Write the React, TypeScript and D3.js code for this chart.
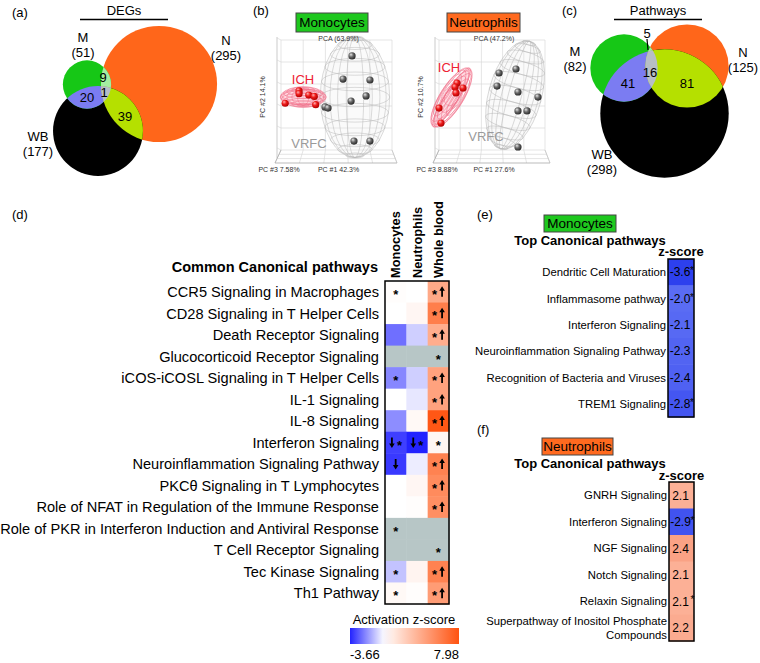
import React from 'react';
import * as d3 from 'd3';

const FONT = "'Liberation Sans', Arial, Helvetica, sans-serif";

// ---------------- (a) DEG Venn ----------------
const degSetNames = ['M', 'N', 'WB'];
const degSetSizes = [51, 295, 177];
const degRegionCounts = [9, 1, 20, 39]; // M∩N, M∩N∩WB, M∩WB, N∩WB

// ---------------- (c) Pathway Venn ----------------
const pwSetNames = ['M', 'N', 'WB'];
const pwSetSizes = [82, 125, 298];
const pwRegionCounts = [5, 16, 41, 81]; // M∩N, M∩N∩WB, M∩WB, N∩WB

// ---------------- (b) PCA ----------------
const pcaCells = ['Monocytes', 'Neutrophils'];
const pcaTitles = ['PCA (63.9%)', 'PCA (47.2%)'];
const pc1Labels = ['PC #1 42.3%', 'PC #1 27.6%'];
const pc2Labels = ['PC #2 14.1%', 'PC #2 10.7%'];
const pc3Labels = ['PC #3 7.58%', 'PC #3 8.88%'];
const monoIchPC1 = [-27, -27, -20, -16, -37, -15];
const monoIchPC2 = [3, 1, 0, -1, -6, -7];
const monoVrfcPC1 = [11.2, 4.7, 24.1, 21.3, 10.5, -8.3, -6.1, 12.6, 24.1];
const monoVrfcPC2 = [28.4, 11.6, 10.9, -0.7, -4.4, -8.7, -9.5, -33.5, -33.5];
const neutIchPC1 = [-26.4, -27.9, -27.2, -21.9, -40, -38.5];
const neutIchPC2 = [8.7, 5.8, 1.5, 5.1, -9.5, -20.4];
const neutVrfcPC1 = [5.3, 18.1, 3.8, 19.6, 19.6, 26.4, 34.7, 19.6];
const neutVrfcPC2 = [16, 18.9, 6.5, 2.2, -11.6, -11.6, -1.5, -37.8];

// ---------------- (d) heatmap ----------------
const pathways = [
  'CCR5 Signaling in Macrophages',
  'CD28 Signaling in T Helper Cells',
  'Death Receptor Signaling',
  'Glucocorticoid Receptor Signaling',
  'iCOS-iCOSL Signaling in T Helper Cells',
  'IL-1 Signaling',
  'IL-8 Signaling',
  'Interferon Signaling',
  'Neuroinflammation Signaling Pathway',
  'PKCθ Signaling in T Lymphocytes',
  'Role of NFAT in Regulation of the Immune Response',
  'Role of PKR in Interferon Induction and Antiviral Response',
  'T Cell Receptor Signaling',
  'Tec Kinase Signaling',
  'Th1 Pathway',
];
const heatColumns = ['Monocytes', 'Neutrophils', 'Whole blood'];
const monoZ = [0.1, 0, -2.4, NaN, -2.0, 0, -1.9, -3.2, -3.3, 0, 0, NaN, NaN, -1.0, 0.3];
const neutZ = [0, 0.4, -0.8, NaN, -0.8, -0.4, 0.3, -3.66, -0.3, 0.4, 0.1, NaN, NaN, 0.5, 0.1];
const wbZ = [4.0, 6.0, 3.8, NaN, 4.3, 4.3, 7.8, 0.4, 5.8, 5.4, 5.2, NaN, NaN, 5.8, 4.6];
const monoMarks = ['*', '', '', '', '*', '', '', '↓*', '↓', '', '', '*', '', '*', '*'];
const neutMarks = ['', '', '', '', '', '', '', '↓*', '', '', '', '', '', '', ''];
const wbMarks = ['*↑', '*↑', '*↑', '*', '*↑', '*↑', '*↑', '*', '*↑', '*↑', '*↑', '', '*', '*↑', '*↑'];
const zMin = -3.66;
const zMax = 7.98;

// ---------------- (e) / (f) ----------------
const monoTopNames = [
  'Dendritic Cell Maturation',
  'Inflammasome pathway',
  'Interferon Signaling',
  'Neuroinflammation Signaling Pathway',
  'Recognition of Bacteria and Viruses',
  'TREM1 Signaling',
];
const monoTopZ = [-3.6, -2.0, -2.1, -2.3, -2.4, -2.8];
const monoTopStar = [true, true, false, false, false, true];
const neutTopNames = [
  'GNRH Signaling',
  'Interferon Signaling',
  'NGF Signaling',
  'Notch Signaling',
  'Relaxin Signaling',
  'Superpathway of Inositol Phosphate Compounds',
];
const neutTopZ = [2.1, -2.9, 2.4, 2.1, 2.1, 2.2];
const neutTopStar = [false, true, false, false, true, false];

const C = {
  M: '#16c716',
  N: '#ff661a',
  WB: '#000000',
  MN: '#a4eea0',
  MW: '#7b7cf2',
  NW: '#b5e000',
  MNW: '#b7bec6',
};

function Venn({ id, sizes, k, centers, counts, countPos }) {
  const r = d3.scaleSqrt().domain([0, 1]).range([0, k]);
  const [m, n, w] = sizes.map((s, i) => ({ cx: centers[i][0], cy: centers[i][1], r: r(s) }));
  return (
    <g>
      <defs>
        <clipPath id={`${id}-n`}><circle cx={n.cx} cy={n.cy} r={n.r} /></clipPath>
        <clipPath id={`${id}-w`}><circle cx={w.cx} cy={w.cy} r={w.r} /></clipPath>
      </defs>
      <circle cx={n.cx} cy={n.cy} r={n.r} fill={C.N} />
      <circle cx={w.cx} cy={w.cy} r={w.r} fill={C.WB} />
      <circle cx={m.cx} cy={m.cy} r={m.r} fill={C.M} />
      <circle cx={m.cx} cy={m.cy} r={m.r} fill={C.MN} clipPath={`url(#${id}-n)`} />
      <circle cx={m.cx} cy={m.cy} r={m.r} fill={C.MW} clipPath={`url(#${id}-w)`} />
      <circle cx={w.cx} cy={w.cy} r={w.r} fill={C.NW} clipPath={`url(#${id}-n)`} />
      <g clipPath={`url(#${id}-w)`}>
        <circle cx={m.cx} cy={m.cy} r={m.r} fill={C.MNW} clipPath={`url(#${id}-n)`} />
      </g>
      {counts.map((c, i) =>
        countPos[i] ? (
          <text key={i} x={countPos[i][0]} y={countPos[i][1]} dy="0.35em" textAnchor="middle" fontSize={13}>
            {c}
          </text>
        ) : null
      )}
    </g>
  );
}

function SetLabel({ x, y, name, size }) {
  return (
    <g fontSize={13} textAnchor="middle">
      <text x={x} y={y}>{name}</text>
      <text x={x} y={y + 15}>({size})</text>
    </g>
  );
}

function Ellipsoid({ cx, cy, rx, ry, angle, stroke, fill }) {
  const mer = [0.25, 0.5, 0.72, 0.9];
  const lats = d3.range(-75, 76, 15);
  return (
    <g transform={`translate(${cx},${cy}) rotate(${angle})`} fill="none" stroke={stroke} strokeWidth={0.5}>
      <ellipse rx={rx} ry={ry} fill={fill} />
      {mer.map((f, i) => <ellipse key={'m' + i} rx={rx * f} ry={ry} />)}
      {lats.map((a, i) => {
        const t = (a * Math.PI) / 180;
        const hw = rx * Math.cos(t);
        return <ellipse key={'l' + i} cx={0} cy={ry * Math.sin(t)} rx={hw} ry={hw * 0.28} />;
      })}
    </g>
  );
}

function PCA({ idx, backLeft, backRight, ich1, ich2, vr1, vr2, ichEll, vrEll, ichLab, vrLab }) {
  const top = 40, bb = 150, fb = 163;
  const x = d3.scaleLinear().domain([-40, 40]).range([backLeft, backRight]);
  const y = d3.scaleLinear().domain([-40, 40]).range([bb, top]);
  const kx = (backRight - backLeft) / 80;
  const vx = d3.range(0, 6).map((i) => backLeft + (i * (backRight - backLeft)) / 5);
  const hy = d3.range(0, 6).map((j) => top + (j * (bb - top)) / 5);
  const fl = backLeft - 6, fr = backRight + 5;
  const fx = d3.range(0, 6).map((i) => fl + (i * (fr - fl)) / 5);
  const grid = '#d4d4d4';
  return (
    <g>
      {vx.map((v, i) => <line key={'v' + i} x1={v} x2={v} y1={top} y2={bb} stroke={grid} strokeWidth={0.6} />)}
      {hy.map((h, i) => <line key={'h' + i} x1={backLeft} x2={backRight} y1={h} y2={h} stroke={grid} strokeWidth={0.6} />)}
      <line x1={backLeft - 4} y1={top - 3} x2={backLeft - 4} y2={bb + 8} stroke="#b5b5b5" strokeWidth={0.7} />
      {hy.map((h, i) => <line key={'lw' + i} x1={backLeft - 4} x2={backLeft} y1={h - 2} y2={h} stroke={grid} strokeWidth={0.6} />)}
      {vx.map((v, i) => <line key={'f' + i} x1={v} x2={fx[i]} y1={bb} y2={fb} stroke={grid} strokeWidth={0.6} />)}
      {[0.33, 0.66].map((t, i) => (
        <line key={'fh' + i} x1={backLeft + (fl - backLeft) * t} x2={backRight + (fr - backRight) * t} y1={bb + (fb - bb) * t} y2={bb + (fb - bb) * t} stroke={grid} strokeWidth={0.6} />
      ))}
      <line x1={fl} x2={fr} y1={fb} y2={fb} stroke="#aaa" strokeWidth={0.8} />
      <line x1={fl} x2={backLeft} y1={fb} y2={bb} stroke="#aaa" strokeWidth={0.8} />
      <line x1={fr} x2={backRight} y1={fb} y2={bb} stroke="#bbb" strokeWidth={0.6} />
      <Ellipsoid cx={x(vrEll[0])} cy={y(vrEll[1])} rx={vrEll[2] * kx} ry={vrEll[3] * kx} angle={vrEll[4]} stroke="#b9b9b9" fill="rgba(235,235,235,0.25)" />
      <Ellipsoid cx={x(ichEll[0])} cy={y(ichEll[1])} rx={ichEll[2] * kx} ry={ichEll[3] * kx} angle={ichEll[4]} stroke="#f0708a" fill="rgba(255,150,170,0.35)" />
      {vr1.map((v, i) => <circle key={'g' + i} cx={x(v)} cy={y(vr2[i])} r={3.6} fill="url(#sphG)" />)}
      {ich1.map((v, i) => <circle key={'r' + i} cx={x(v)} cy={y(ich2[i])} r={3.6} fill="url(#sphR)" />)}
      <text x={ichLab[0]} y={ichLab[1]} textAnchor="middle" fontSize={13} fill="#ee2233">ICH</text>
      <text x={vrLab[0]} y={vrLab[1]} textAnchor="middle" fontSize={13} fill="#9a9a9a">VRFC</text>
      <g fontSize={7} fill="#333">
        <text x={(backLeft + backRight) / 2 + 2} y={41} textAnchor="middle">{pcaTitles[idx]}</text>
        <text x={(backLeft + backRight) / 2 + 2} y={172} textAnchor="middle">{pc1Labels[idx]}</text>
        <text x={backLeft - 2} y={172} textAnchor="middle">{pc3Labels[idx]}</text>
        <text transform={`translate(${backLeft - 16},97) rotate(-90)`} textAnchor="middle">{pc2Labels[idx]}</text>
      </g>
    </g>
  );
}

function CellTag({ x, y, w, h, text, fill }) {
  return (
    <g>
      <rect x={x} y={y} width={w} height={h} fill={fill} stroke="#444" strokeWidth={1} />
      <text x={x + w / 2} y={y + h / 2} dy="0.36em" textAnchor="middle" fontSize={13.5}>{text}</text>
    </g>
  );
}

function Marks({ cx, cy, s }) {
  const chars = Array.from(s as string);
  const step = 7.5;
  const start = cx - ((chars.length - 1) * step) / 2;
  return (
    <g>
      {chars.map((ch, i) => {
        const x = start + i * step;
        if (ch === '*') {
          return <text key={i} x={x} y={cy} dy="0.55em" textAnchor="middle" fontSize={13} fontWeight="bold">*</text>;
        }
        const d = ch === '↑' ? -1 : 1;
        const tip = cy + d * 5.5;
        const tail = cy - d * 5;
        const neck = cy + d * 1;
        return (
          <path key={i} fill="#000"
            d={`M${x - 0.9},${tail} L${x + 0.9},${tail} L${x + 0.9},${neck} L${x + 2.8},${neck} L${x},${tip} L${x - 2.8},${neck} L${x - 0.9},${neck} Z`} />
        );
      })}
    </g>
  );
}

function Heatmap() {
  const x0 = 385, x1 = 449, y0 = 281, y1 = 604;
  const yb = d3.scaleBand().domain(pathways).range([y0, y1]);
  const xb = d3.scaleBand().domain(heatColumns).range([x0, x1]);
  const color = d3.scaleLinear<string>().domain([zMin, 0, zMax]).range(['#2323ff', '#ffffff', '#ff5310']);
  const cols = [monoZ, neutZ, wbZ];
  const marks = [monoMarks, neutMarks, wbMarks];
  const stops = d3.range(0, 1.0001, 0.1).map((t) => ({ t, c: color(zMin + t * (zMax - zMin)) }));
  return (
    <g>
      <text x={12} y={219} fontSize={13}>(d)</text>
      <text x={378} y={272} textAnchor="end" fontSize={14.5} fontWeight="bold">Common Canonical pathways</text>
      {heatColumns.map((c) => (
        <text key={c} transform={`translate(${xb(c)! + xb.bandwidth() / 2},278) rotate(-90)`} dy="0.36em" fontSize={12.8} fontWeight="bold">{c}</text>
      ))}
      {pathways.map((p, i) => (
        <g key={p}>
          <text x={379} y={yb(p)! + yb.bandwidth() / 2} dy="0.36em" textAnchor="end" fontSize={14.6}>{p}</text>
          {heatColumns.map((c, j) => {
            const v = cols[j][i];
            const gray = Number.isNaN(v);
            return (
              <g key={c}>
                <rect x={xb(c)} y={yb(p)} width={xb.bandwidth() + 0.5} height={yb.bandwidth() + 0.5} fill={gray ? '#b7c6c6' : color(v)} />
                {marks[j][i] ? <Marks cx={xb(c)! + xb.bandwidth() / 2} cy={yb(p)! + yb.bandwidth() / 2} s={marks[j][i]} /> : null}
              </g>
            );
          })}
        </g>
      ))}
      <rect x={x0} y={y0} width={x1 - x0} height={y1 - y0} fill="none" stroke="#000" strokeWidth={1.5} />
      <defs>
        <linearGradient id="cbar" x1="0" x2="1" y1="0" y2="0">
          {stops.map((s) => <stop key={s.t} offset={s.t} stopColor={s.c} />)}
        </linearGradient>
      </defs>
      <text x={404} y={624} textAnchor="middle" fontSize={13}>Activation z-score</text>
      <rect x={350} y={628} width={109} height={16} fill="url(#cbar)" />
      <text x={350} y={659} fontSize={13}>{zMin.toFixed(2)}</text>
      <text x={459} y={659} textAnchor="end" fontSize={13}>{zMax.toFixed(2)}</text>
    </g>
  );
}

function wrap(s: string, max: number) {
  const words = s.split(' ');
  const lines: string[] = [];
  let cur = '';
  words.forEach((w) => {
    if ((cur + ' ' + w).trim().length > max) { lines.push(cur); cur = w; } else cur = (cur + ' ' + w).trim();
  });
  lines.push(cur);
  return lines;
}

const topColor = d3.scaleLinear<string>().domain([-3.6, -2.0, 2.0, 2.5]).range(['#2d40ee', '#5a6cf3', '#fdb59b', '#f99d80']);

function TopPanel({ tag, tagY, cellName, cellFill, cellBox, titleY, zY, box, names, z, stars }) {
  const yb = d3.scaleBand().domain(names).range([box[1], box[3]]);
  const cx = (box[0] + box[2]) / 2;
  return (
    <g>
      <text x={477} y={tagY} fontSize={13}>{tag}</text>
      <CellTag x={cellBox[0]} y={cellBox[1]} w={cellBox[2]} h={cellBox[3]} text={cellName} fill={cellFill} />
      <text x={590} y={titleY} textAnchor="middle" fontSize={13} fontWeight="bold">Top Canonical pathways</text>
      <text x={cx} y={zY} textAnchor="middle" fontSize={13} fontWeight="bold">z-score</text>
      {names.map((n, i) => {
        const yc = yb(n)! + yb.bandwidth() / 2;
        const lines = wrap(n, 35);
        return (
          <g key={n}>
            <rect x={box[0]} y={yb(n)} width={box[2] - box[0]} height={yb.bandwidth() + 0.5} fill={topColor(z[i])} />
            {lines.map((l, k) => (
              <text key={k} x={box[0] - 2} y={yc + (k - (lines.length - 1) / 2) * 14} dy="0.36em" textAnchor="end" fontSize={11.3}>{l}</text>
            ))}
            <text x={cx - 1} y={yc} dy="0.36em" textAnchor="middle" fontSize={12}>{z[i].toFixed(1)}</text>
            {stars[i] ? <text x={cx + 9} y={yc + 2} fontSize={10}>*</text> : null}
          </g>
        );
      })}
      <rect x={box[0]} y={box[1]} width={box[2] - box[0]} height={box[3] - box[1]} fill="none" stroke="#000" strokeWidth={1.5} />
    </g>
  );
}

export default function App() {
  return (
    <svg width={760} height={663} style={{ position: 'absolute', left: 0, top: 0, background: '#fff' }} fontFamily={FONT}>
      <defs>
        <radialGradient id="sphG" cx="0.4" cy="0.4" r="0.6" fx="0.35" fy="0.3">
          <stop offset="0" stopColor="#e8e8e8" />
          <stop offset="0.5" stopColor="#6a6a6a" />
          <stop offset="1" stopColor="#2a2a2a" />
        </radialGradient>
        <radialGradient id="sphR" cx="0.4" cy="0.4" r="0.6" fx="0.35" fy="0.3">
          <stop offset="0" stopColor="#ffb0b0" />
          <stop offset="0.5" stopColor="#ee1a1a" />
          <stop offset="1" stopColor="#b00000" />
        </radialGradient>
      </defs>

      {/* (a) */}
      <text x={12} y={17} fontSize={13}>(a)</text>
      <text x={124} y={15} textAnchor="middle" fontSize={13}>DEGs</text>
      <line x1={80} x2={168} y1={19.5} y2={19.5} stroke="#000" strokeWidth={1.5} />
      <Venn id="va" sizes={degSetSizes} k={3.38} centers={[[87, 84.5], [159, 84], [98, 131]]} counts={degRegionCounts} countPos={[[103, 77], [104, 92.5], [87, 97], [125, 116]]} />
      <SetLabel x={83} y={42} name={degSetNames[0]} size={degSetSizes[0]} />
      <SetLabel x={226} y={45} name={degSetNames[1]} size={degSetSizes[1]} />
      <SetLabel x={38} y={141} name={degSetNames[2]} size={degSetSizes[2]} />

      {/* (b) */}
      <text x={253} y={15} fontSize={13}>(b)</text>
      <CellTag x={296} y={13} w={72} h={19} text={pcaCells[0]} fill="#1ec81e" />
      <CellTag x={447} y={13} w={73} h={19} text={pcaCells[1]} fill="#ff6a1f" />
      <PCA idx={0} backLeft={281} backRight={392} ich1={monoIchPC1} ich2={monoIchPC2} vr1={monoVrfcPC1} vr2={monoVrfcPC2}
        ichEll={[-24, -1.5, 16.5, 5.8, 0]} vrEll={[13.3, -1.5, 25, 43.6, 0]} ichLab={[303, 84]} vrLab={[309, 148]} />
      <PCA idx={1} backLeft={439} backRight={545} ich1={neutIchPC1} ich2={neutIchPC2} vr1={neutVrfcPC1} vr2={neutVrfcPC2}
        ichEll={[-30.6, -1.8, 26, 5, -58]} vrEll={[17.4, 0, 20, 42, 15]} ichLab={[449, 72]} vrLab={[486, 141]} />

      {/* (c) */}
      <text x={562} y={15} fontSize={13}>(c)</text>
      <text x={658} y={15} textAnchor="middle" fontSize={13}>Pathways</text>
      <line x1={614} x2={702} y1={19.5} y2={19.5} stroke="#000" strokeWidth={1.5} />
      <Venn id="vc" sizes={pwSetSizes} k={3.72} centers={[[624, 68], [687, 66], [664.5, 113.5]]} counts={pwRegionCounts} countPos={[null, [650, 72], [628, 83], [687, 83]]} />
      <text x={647} y={33} dy="0.35em" textAnchor="middle" fontSize={13}>{pwRegionCounts[0]}</text>
      <line x1={647} x2={648} y1={39} y2={50} stroke="#000" strokeWidth={1.2} />
      <SetLabel x={575} y={56} name={pwSetNames[0]} size={pwSetSizes[0]} />
      <SetLabel x={743} y={57} name={pwSetNames[1]} size={pwSetSizes[1]} />
      <SetLabel x={602} y={159} name={pwSetNames[2]} size={pwSetSizes[2]} />

      {/* (d) */}
      <Heatmap />

      {/* (e) */}
      <TopPanel tag="(e)" tagY={219} cellName="Monocytes" cellFill="#1ec81e" cellBox={[544, 215, 72, 17]} titleY={245} zY={256}
        box={[668, 259, 694, 417]} names={monoTopNames} z={monoTopZ} stars={monoTopStar} />
      {/* (f) */}
      <TopPanel tag="(f)" tagY={434} cellName="Neutrophils" cellFill="#ff6a1f" cellBox={[542, 438, 71, 17]} titleY={468} zY={480}
        box={[669, 482, 694, 641]} names={neutTopNames} z={neutTopZ} stars={neutTopStar} />
    </svg>
  );
}
